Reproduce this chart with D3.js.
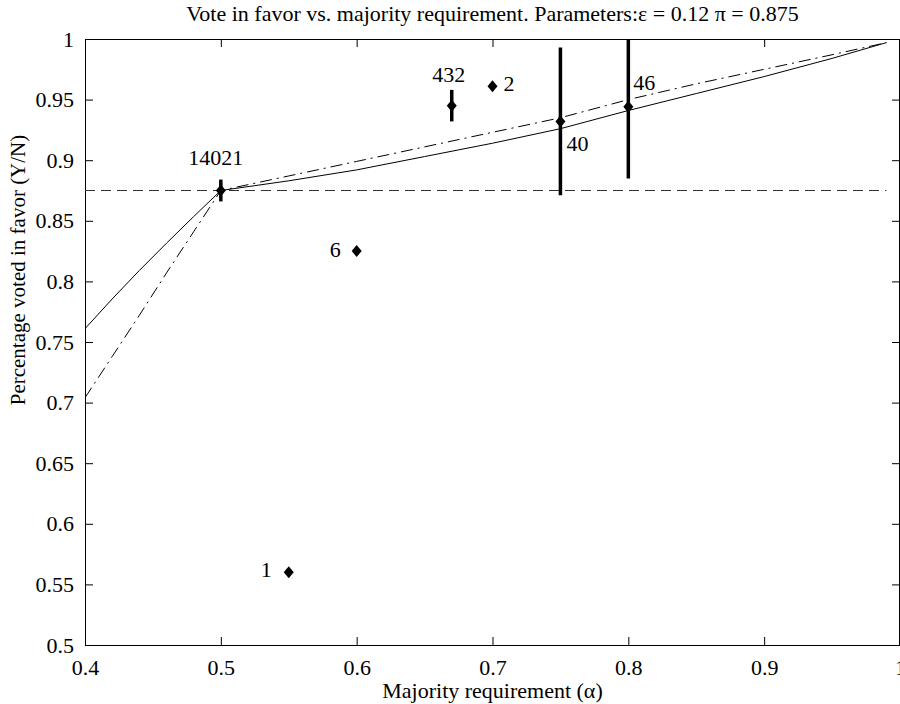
<!DOCTYPE html>
<html lang="en">
<head>
  <meta charset="utf-8">
  <title>Vote in favor vs. majority requirement</title>
  <script src="https://d3js.org/d3.v7.min.js"></script>
  <style>
    body {
      margin: 0;
      padding: 0;
      background-color: #fff;
    }
    svg text {
      font-family: "Liberation Serif", "Times New Roman", serif;
      font-size: 22px;
      fill: #000;
    }
    .axis path.domain { display: none; }
    .axis line { stroke: #000; stroke-width: 1; }
  </style>
</head>
<body>
  <svg id="chart" width="900" height="704"></svg>

  <script>
    // tick values
    const alphaTicks = [0.4, 0.5, 0.6, 0.7, 0.8, 0.9, 1];
    const voteTicks = [0.5, 0.55, 0.6, 0.65, 0.7, 0.75, 0.8, 0.85, 0.9, 0.95, 1];

    // model curves
    const modelAlpha   = [0.40, 0.42, 0.44, 0.46, 0.48, 0.50, 0.55, 0.60, 0.65, 0.70, 0.75, 0.80, 0.85, 0.90, 0.95, 0.99];
    const modelSolid   = [0.761, 0.7855, 0.809, 0.8315, 0.8535, 0.875, 0.883, 0.892, 0.903, 0.914, 0.926, 0.941, 0.955, 0.969, 0.984, 0.997];
    const modelDashDot = [0.704, 0.738, 0.772, 0.807, 0.841, 0.875, 0.887, 0.899, 0.911, 0.923, 0.935, 0.950, 0.963, 0.975, 0.987, 0.997];

    // horizontal reference: pi
    const piValue = 0.875;

    // observed votes
    const obsAlpha = [0.5, 0.55, 0.6, 0.67, 0.7, 0.75, 0.8];
    const obsVote  = [0.875, 0.56, 0.825, 0.945, 0.961, 0.932, 0.944];
    const obsErr   = [0.009, 0, 0, 0.013, 0, 0.061, 0.059];
    const obsCount = ["14021", "1", "6", "432", "2", "40", "46"];

    // where each count label sits relative to its point
    const labelDx = [-5, -17, -16, -3, 11, 6, 5];
    const labelDy = [-26, 5, 6, -24, 5, 30, -17];
    const labelAnchor = ["middle", "end", "end", "middle", "start", "start", "start"];

    const margin = { top: 39, right: 0, bottom: 59, left: 85 };
    const width = 900, height = 704;

    const svg = d3.select("#chart");

    const x = d3.scaleLinear().domain([0.4, 1]).range([margin.left, width - margin.right]);
    const y = d3.scaleLinear().domain([0.5, 1]).range([height - margin.bottom, margin.top]);

    svg.append("clipPath").attr("id", "plotclip")
      .append("rect")
      .attr("x", x(0.4)).attr("y", y(1))
      .attr("width", x(1) - x(0.4)).attr("height", y(0.5) - y(1));

    const fmt = d3.format("~g");

    // axes, ticks pointing inward like the original
    svg.append("g").attr("class", "axis")
      .attr("transform", `translate(0,${y(0.5)})`)
      .call(d3.axisBottom(x).tickValues(alphaTicks).tickFormat(fmt).tickSize(-8).tickPadding(14));

    svg.append("g").attr("class", "axis")
      .attr("transform", `translate(0,${y(1)})`)
      .call(d3.axisTop(x).tickValues(alphaTicks).tickFormat("").tickSize(-8));

    svg.append("g").attr("class", "axis")
      .attr("transform", `translate(${x(0.4)},0)`)
      .call(d3.axisLeft(y).tickValues(voteTicks).tickFormat(fmt).tickSize(-8).tickPadding(11));

    svg.append("g").attr("class", "axis")
      .attr("transform", `translate(${x(1)},0)`)
      .call(d3.axisRight(y).tickValues(voteTicks).tickFormat("").tickSize(-8));

    svg.selectAll(".axis").attr("font-family", null).attr("font-size", null);

    // box
    svg.append("rect")
      .attr("x", x(0.4) + 0.5).attr("y", y(1) + 0.5)
      .attr("width", x(1) - x(0.4) - 1).attr("height", y(0.5) - y(1))
      .attr("fill", "none").attr("stroke", "#000");

    const plot = svg.append("g").attr("clip-path", "url(#plotclip)");

    // pi line
    plot.append("line")
      .attr("x1", x(0.4)).attr("x2", x(0.99))
      .attr("y1", y(piValue)).attr("y2", y(piValue))
      .attr("stroke", "#333").attr("stroke-width", 1)
      .attr("stroke-dasharray", "10,6");

    const line = d3.line()
      .x(d => x(d[0]))
      .y(d => y(d[1]));

    plot.append("path")
      .attr("d", line(modelAlpha.map((a, i) => [a, modelSolid[i]])))
      .attr("fill", "none").attr("stroke", "#000").attr("stroke-width", 1);

    plot.append("path")
      .attr("d", line(modelAlpha.map((a, i) => [a, modelDashDot[i]])))
      .attr("fill", "none").attr("stroke", "#000").attr("stroke-width", 1)
      .attr("stroke-dasharray", "12,5,2,5");

    const obs = obsAlpha.map((a, i) => ({
      a: a, v: obsVote[i], e: obsErr[i], n: obsCount[i],
      dx: labelDx[i], dy: labelDy[i], anchor: labelAnchor[i]
    }));

    // error bars
    plot.append("g")
      .selectAll("line")
      .data(obs.filter(d => d.e > 0))
      .join("line")
      .attr("x1", d => x(d.a)).attr("x2", d => x(d.a))
      .attr("y1", d => y(d.v + d.e)).attr("y2", d => y(d.v - d.e))
      .attr("stroke", "#000").attr("stroke-width", 3.5);

    // diamonds
    const diamond = "M0,-6L5,0L0,6L-5,0Z";
    plot.append("g")
      .selectAll("path")
      .data(obs)
      .join("path")
      .attr("transform", d => `translate(${x(d.a)},${y(d.v)})`)
      .attr("d", diamond)
      .attr("fill", "#000");

    // count labels
    svg.append("g")
      .selectAll("text")
      .data(obs)
      .join("text")
      .attr("x", d => x(d.a) + d.dx)
      .attr("y", d => y(d.v) + d.dy)
      .attr("text-anchor", d => d.anchor)
      .text(d => d.n);

    // titles
    svg.append("text")
      .attr("x", (x(0.4) + x(1)) / 2)
      .attr("y", 21)
      .attr("text-anchor", "middle")
      .text("Vote in favor vs. majority requirement. Parameters:\u03b5 = 0.12 \u03c0 = 0.875");

    svg.append("text")
      .attr("x", (x(0.4) + x(1)) / 2)
      .attr("y", 698)
      .attr("text-anchor", "middle")
      .text("Majority requirement (\u03b1)");

    svg.append("text")
      .attr("transform", "translate(25,270) rotate(-90)")
      .attr("text-anchor", "middle")
      .style("font-size", "21px")
      .text("Percentage voted in favor (Y/N)");
  </script>
</body>
</html>
